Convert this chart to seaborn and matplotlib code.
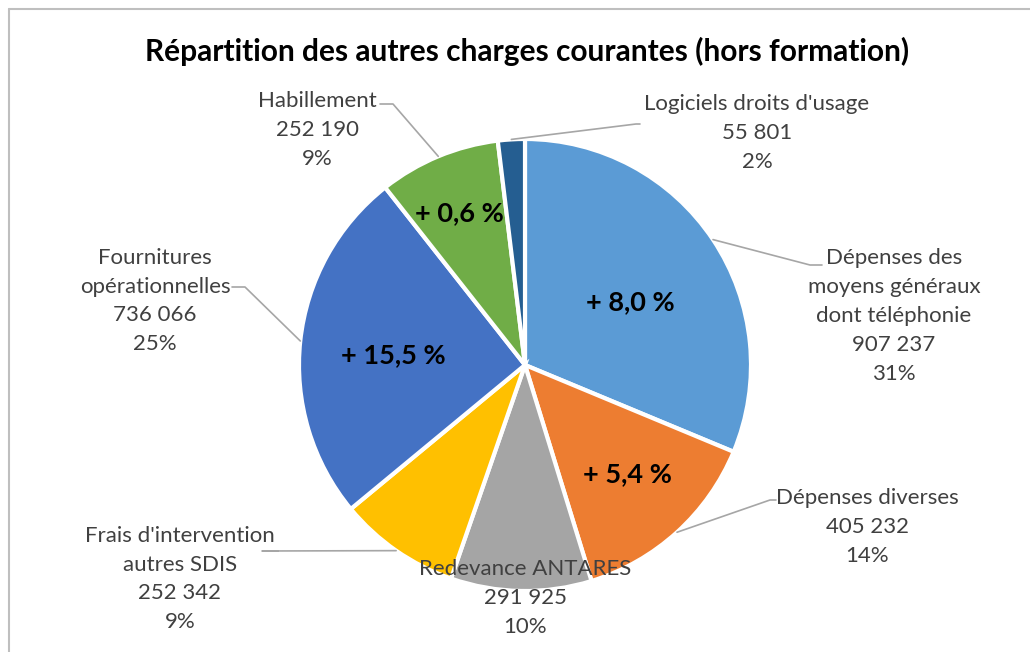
import numpy as np
import matplotlib
matplotlib.use("Agg")
import matplotlib.pyplot as plt
import seaborn as sns

# données
categories = ["Dépenses des\nmoyens généraux\ndont téléphonie", "Dépenses diverses",
              "Redevance ANTARES", "Frais d'intervention\nautres SDIS",
              "Fournitures\nopérationnelles", "Habillement", "Logiciels droits d'usage"]
values = [907237, 405232, 291925, 252342, 736066, 252190, 55801]
evolutions = ["+ 8,0 %", "+ 5,4 %", "", "", "+ 15,5 %", "+ 0,6 %", ""]
colors = ["#5B9BD5", "#ED7D31", "#A5A5A5", "#FFC000", "#4472C4", "#70AD47", "#255E91"]

# mise en page (pixels, origine en haut à gauche)
W, H = 1030, 652
cx, cy, R = 525, 365, 226
label_pos = [(894, 316), (867, 527), (525, 598), (180, 579), (155, 301), (317, 130), (757, 133)]
line_end = [(810, 265), (770, 500), None, (262, 551), (245, 287), (393, 104), (636, 124)]
line_tail = [(822, 265), (776, 500), None, (278, 551), (232, 287), (380, 104), (640, 124)]
inner_pos = [(630, 302), (627, 474), None, None, (393, 355), (459, 213), None]

sns.set_theme(style="white")
plt.rcParams["font.family"] = ["Lato", "DejaVu Sans"]

fig = plt.figure(figsize=(W / 100, H / 100), dpi=100)
ax = fig.add_axes([0, 0, 1, 1])

def Y(y):
    return H - y

wedges, _ = ax.pie(values, colors=colors, startangle=90, counterclock=False,
                   radius=R, center=(cx, Y(cy)),
                   wedgeprops=dict(edgecolor="white", linewidth=3))
ax.set_xlim(0, W)
ax.set_ylim(0, H)
ax.set_aspect("equal")
ax.axis("off")

total = sum(values)
for i, w in enumerate(wedges):
    pct = round(values[i] / total * 100)
    txt = f"{categories[i]}\n{values[i]:,}".replace(",", " ") + f"\n{pct}%"
    lx, ly = label_pos[i]
    ax.text(lx, Y(ly), txt, ha="center", va="center", fontsize=16,
            color="#404040", linespacing=1.55)
    if line_end[i] is not None:
        ang = np.deg2rad((w.theta1 + w.theta2) / 2)
        px, py = cx + R * np.cos(ang), Y(cy) + R * np.sin(ang)
        ex, ey = line_end[i]
        tx, ty = line_tail[i]
        ax.plot([px, ex, tx], [py, Y(ey), Y(ty)], color="#A6A6A6", lw=1.2)
    if inner_pos[i] is not None:
        ix, iy = inner_pos[i]
        ax.text(ix, Y(iy), evolutions[i], ha="center", va="center",
                fontsize=19.5, fontweight="bold", color="black")

ax.text(527, Y(51), "Répartition des autres charges courantes (hors formation)",
        ha="center", va="center", fontsize=21.5, fontweight="bold", color="black")

# cadre
ax.plot([9, W], [Y(9), Y(9)], color="#BFBFBF", lw=1.5, clip_on=False)
ax.plot([9, 9], [Y(9), 0], color="#BFBFBF", lw=1.5, clip_on=False)

fig.savefig("out.png", dpi=100, facecolor="white")
